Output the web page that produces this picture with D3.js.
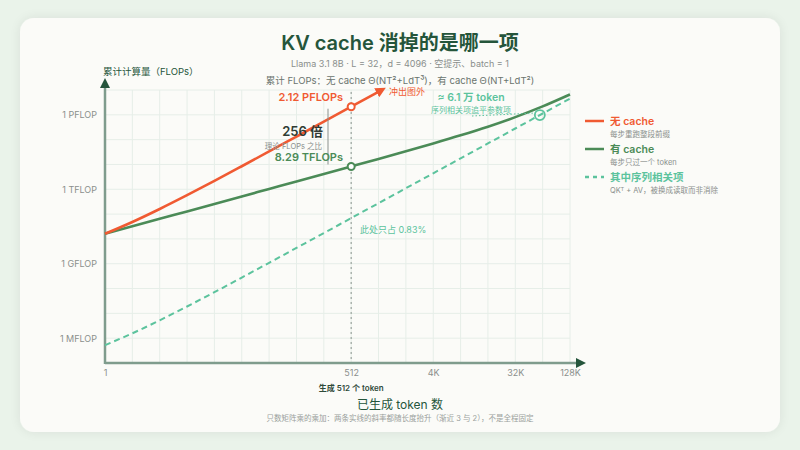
<!DOCTYPE html>
<html>
<head>
<meta charset="utf-8">
<script src="https://cdn.jsdelivr.net/npm/d3@7"></script>
<style>
  html, body { margin: 0; padding: 0; background: #eaf3ea; }
  svg { display: block; font-family: "Inter", "Noto Sans CJK SC", sans-serif; }
</style>
</head>
<body>
<div id="chart"></div>
<script>
// ---- data ----
var tokens = [1, 2, 4, 8, 16, 32, 64, 128, 256, 512, 1024, 2048, 4096, 8192, 16384, 32768, 65536, 131072];
// cumulative FLOPs, no cache (runs out of the plot after ~1K tokens)
var noCache = [1.61e10, 4.82e10, 1.61e11, 5.78e11, 2.18e12, 8.48e12, 3.34e13, 1.33e14, 5.30e14, 2.12e15, 8.52e15];
// cumulative FLOPs, with cache
var withCache = [1.61e10, 3.21e10, 6.42e10, 1.285e11, 2.57e11, 5.14e11, 1.03e12, 2.06e12, 4.13e12, 8.29e12,
                 1.67e13, 3.40e13, 7.02e13, 1.49e14, 3.33e14, 8.08e14, 2.18e15, 6.61e15];
// sequence-dependent part (QK^T + AV)
var seqTerm = [5.24e5, 1.57e6, 5.24e6, 1.89e7, 7.13e7, 2.77e8, 1.09e9, 4.33e9, 1.72e10, 6.89e10,
               2.75e11, 1.10e12, 4.40e12, 1.76e13, 7.04e13, 2.81e14, 1.13e15, 4.50e15];

var xTicks = [1, 512, 4096, 32768, 131072];
var xTickLabels = ["1", "512", "4K", "32K", "128K"];
var yTicks = [1e6, 1e9, 1e12, 1e15];
var yTickLabels = ["1 MFLOP", "1 GFLOP", "1 TFLOP", "1 PFLOP"];

var markT = 512, markNo = 2.12e15, markWith = 8.29e12;
var crossT = 61035, crossV = 9.8e14;

var C = { red: "#f05a32", green: "#4b8b57", teal: "#5cc39d", title: "#25553b", axis: "#7f9c8d",
          grid: "#e6eee8", gray: "#8a8f8c", text: "#4d5a52" };

var W = 800, H = 450;
var svg = d3.select("#chart").append("svg").attr("width", W).attr("height", H);

var defs = svg.append("defs");
var f = defs.append("filter").attr("id", "shadow").attr("x", "-10%").attr("y", "-10%").attr("width", "120%").attr("height", "120%");
f.append("feGaussianBlur").attr("in", "SourceAlpha").attr("stdDeviation", 6);
f.append("feComponentTransfer").append("feFuncA").attr("type", "linear").attr("slope", 0.08);
var fm = f.append("feMerge"); fm.append("feMergeNode"); fm.append("feMergeNode").attr("in", "SourceGraphic");

defs.append("marker").attr("id", "redArrow").attr("viewBox", "0 0 10 10").attr("refX", 2).attr("refY", 5)
  .attr("markerWidth", 4).attr("markerHeight", 4).attr("orient", "auto")
  .append("path").attr("d", "M0,0L10,5L0,10Z").attr("fill", C.red);

svg.append("rect").attr("x", 20).attr("y", 18).attr("width", 760).attr("height", 414)
  .attr("rx", 14).attr("fill", "#fbfbf8").attr("filter", "url(#shadow)");

// ---- scales ----
var x = d3.scaleLog().base(2).domain([1, 131072]).range([105, 570]);
var y = d3.scaleLog().domain([1e5, 1e16]).range([363, 90]);

// grid: one line per doubling, one per decade
var g = svg.append("g");
var vGrid = d3.range(1, 18).map(function(i){ return Math.pow(2, i); });
g.selectAll("line.vg").data(vGrid).enter().append("line")
  .attr("x1", function(d){ return x(d); }).attr("x2", function(d){ return x(d); })
  .attr("y1", 90).attr("y2", 362).attr("stroke", C.grid).attr("stroke-width", 1);
var hGrid = d3.range(6, 17).map(function(i){ return Math.pow(10, i); });
g.selectAll("line.hg").data(hGrid).enter().append("line")
  .attr("x1", 105).attr("x2", 570)
  .attr("y1", function(d){ return y(d); }).attr("y2", function(d){ return y(d); })
  .attr("stroke", C.grid).attr("stroke-width", 1);

// 512 marker line
g.append("line").attr("x1", x(markT)).attr("x2", x(markT)).attr("y1", 92).attr("y2", 362)
  .attr("stroke", "#9aa39e").attr("stroke-width", 1.2).attr("stroke-dasharray", "2,3");

// axes
var xAxis = d3.axisBottom(x).tickValues(xTicks).tickFormat(function(d, i){ return xTickLabels[i]; }).tickSize(0).tickPadding(7);
var xa = svg.append("g").attr("transform", "translate(0,363)").call(xAxis);
xa.select(".domain").remove();
xa.selectAll("text").attr("fill", C.gray).attr("font-size", 9).attr("font-family", "Inter, sans-serif");

var yAxis = d3.axisLeft(y).tickValues(yTicks).tickFormat(function(d, i){ return yTickLabels[i]; }).tickSize(0).tickPadding(8);
var ya = svg.append("g").attr("transform", "translate(105,0)").call(yAxis);
ya.select(".domain").remove();
ya.selectAll("text").attr("fill", C.gray).attr("font-size", 9).attr("font-family", "Inter, sans-serif");

svg.append("line").attr("x1", 105).attr("x2", 576).attr("y1", 363).attr("y2", 363).attr("stroke", C.axis).attr("stroke-width", 2.5);
svg.append("path").attr("d", "M576,358L586,363L576,368Z").attr("fill", C.title);
svg.append("line").attr("x1", 105).attr("x2", 105).attr("y1", 364).attr("y2", 88).attr("stroke", C.axis).attr("stroke-width", 2.5);
svg.append("path").attr("d", "M100,88L105,78L110,88Z").attr("fill", C.title);

svg.append("text").attr("x", 103).attr("y", 75).attr("font-size", 9.5).attr("fill", C.title).text("累计计算量（FLOPs）");

// ---- lines ----
var line = d3.line().x(function(d){ return x(d[0]); }).y(function(d){ return y(d[1]); }).curve(d3.curveMonotoneX);

svg.append("path").datum(d3.zip(tokens, seqTerm)).attr("d", line)
  .attr("fill", "none").attr("stroke", C.teal).attr("stroke-width", 2).attr("stroke-dasharray", "6,4");
svg.append("path").datum(d3.zip(tokens, withCache)).attr("d", line)
  .attr("fill", "none").attr("stroke", C.green).attr("stroke-width", 2.6);
svg.append("path").datum(d3.zip(tokens.slice(0, noCache.length), noCache)).attr("d", line)
  .attr("fill", "none").attr("stroke", C.red).attr("stroke-width", 2.6).attr("marker-end", "url(#redArrow)");

// markers
svg.append("circle").attr("cx", x(markT)).attr("cy", y(markNo)).attr("r", 3.5)
  .attr("fill", "#fff").attr("stroke", C.red).attr("stroke-width", 2);
svg.append("circle").attr("cx", x(markT)).attr("cy", y(markWith)).attr("r", 3.5)
  .attr("fill", "#fff").attr("stroke", C.green).attr("stroke-width", 2);
svg.append("circle").attr("cx", x(crossT)).attr("cy", y(crossV)).attr("r", 5)
  .attr("fill", "none").attr("stroke", C.teal).attr("stroke-width", 1.8);

// ---- annotations ----
svg.append("text").attr("x", x(markT) - 8).attr("y", y(markNo) - 6).attr("text-anchor", "end")
  .attr("font-size", 11).attr("font-weight", 600).attr("fill", C.red).text("2.12 PFLOPs");
svg.append("text").attr("x", 389).attr("y", 95).attr("font-size", 9).attr("fill", C.red).text("冲出图外");

svg.append("line").attr("x1", 328).attr("x2", 328).attr("y1", y(markNo) + 2).attr("y2", y(markWith) - 2)
  .attr("stroke", "#8a918d").attr("stroke-width", 1);
svg.append("text").attr("x", 323).attr("y", 136).attr("text-anchor", "end")
  .attr("font-size", 13).attr("font-weight", 600).attr("fill", "#2f3b34").text("256 倍");
svg.append("text").attr("x", 322).attr("y", 148.5).attr("text-anchor", "end")
  .attr("font-size", 7.5).attr("fill", C.gray).text("理论 FLOPs 之比");
svg.append("text").attr("x", 343).attr("y", 161).attr("text-anchor", "end")
  .attr("font-size", 11).attr("font-weight", 600).attr("fill", C.green).text("8.29 TFLOPs");

svg.append("text").attr("x", 360).attr("y", 233).attr("font-size", 9).attr("fill", C.teal).text("此处只占 0.83%");

svg.append("text").attr("x", 471).attr("y", 101).attr("text-anchor", "middle")
  .attr("font-size", 10.5).attr("font-weight", 600).attr("fill", C.teal).text("≈ 6.1 万 token");
svg.append("text").attr("x", 471).attr("y", 113).attr("text-anchor", "middle")
  .attr("font-size", 8).attr("fill", C.teal).text("序列相关项追平参数项");
svg.append("path").attr("d", "M472,116L" + (x(crossT) - 5) + "," + (y(crossV) - 2))
  .attr("stroke", C.teal).attr("stroke-width", 1).attr("stroke-dasharray", "1.5,2").attr("fill", "none");

// ---- titles ----
svg.append("text").attr("x", 400).attr("y", 50).attr("text-anchor", "middle")
  .attr("font-size", 20).attr("font-weight", 600).attr("fill", C.title).text("KV cache 消掉的是哪一项");
svg.append("text").attr("x", 400).attr("y", 67).attr("text-anchor", "middle")
  .attr("font-size", 9).attr("fill", C.gray).text("Llama 3.1 8B · L = 32，d = 4096 · 空提示、batch = 1");
svg.append("text").attr("x", 400).attr("y", 84).attr("text-anchor", "middle")
  .attr("font-size", 9.5).attr("fill", "#6a746e").text("累计 FLOPs：无 cache Θ(NT²+LdT³)，有 cache Θ(NT+LdT²)");

svg.append("text").attr("x", x(markT)).attr("y", 391).attr("text-anchor", "middle")
  .attr("font-size", 8).attr("font-weight", 600).attr("fill", "#2f4a3a").text("生成 512 个 token");
svg.append("text").attr("x", 400).attr("y", 409).attr("text-anchor", "middle")
  .attr("font-size", 12).attr("fill", C.title).text("已生成 token 数");
svg.append("text").attr("x", 400).attr("y", 421).attr("text-anchor", "middle")
  .attr("font-size", 7.5).attr("fill", "#9a9f9c").text("只数矩阵乘的乘加：两条实线的斜率都随长度抬升（渐近 3 与 2），不是全程固定");

// ---- legend ----
var legend = [
  { name: "无 cache", sub: "每步重跑整段前缀", color: C.red, dash: null },
  { name: "有 cache", sub: "每步只过一个 token", color: C.green, dash: null },
  { name: "其中序列相关项", sub: "QKᵀ + AV，被换成读取而非消除", color: C.teal, dash: "4,4" }
];
var lg = svg.append("g").selectAll("g").data(legend).enter().append("g")
  .attr("transform", function(d, i){ return "translate(585," + (121 + i * 28) + ")"; });
lg.append("line").attr("x1", 0).attr("x2", 19).attr("y1", 0).attr("y2", 0)
  .attr("stroke", function(d){ return d.color; }).attr("stroke-width", 2.5)
  .attr("stroke-dasharray", function(d){ return d.dash; });
lg.append("text").attr("x", 25).attr("y", 4).attr("font-size", 10.5).attr("font-weight", 600)
  .attr("fill", function(d){ return d.color; }).text(function(d){ return d.name; });
lg.append("text").attr("x", 25).attr("y", 15.5).attr("font-size", 7.5).attr("fill", C.gray)
  .text(function(d){ return d.sub; });
</script>
</body>
</html>
